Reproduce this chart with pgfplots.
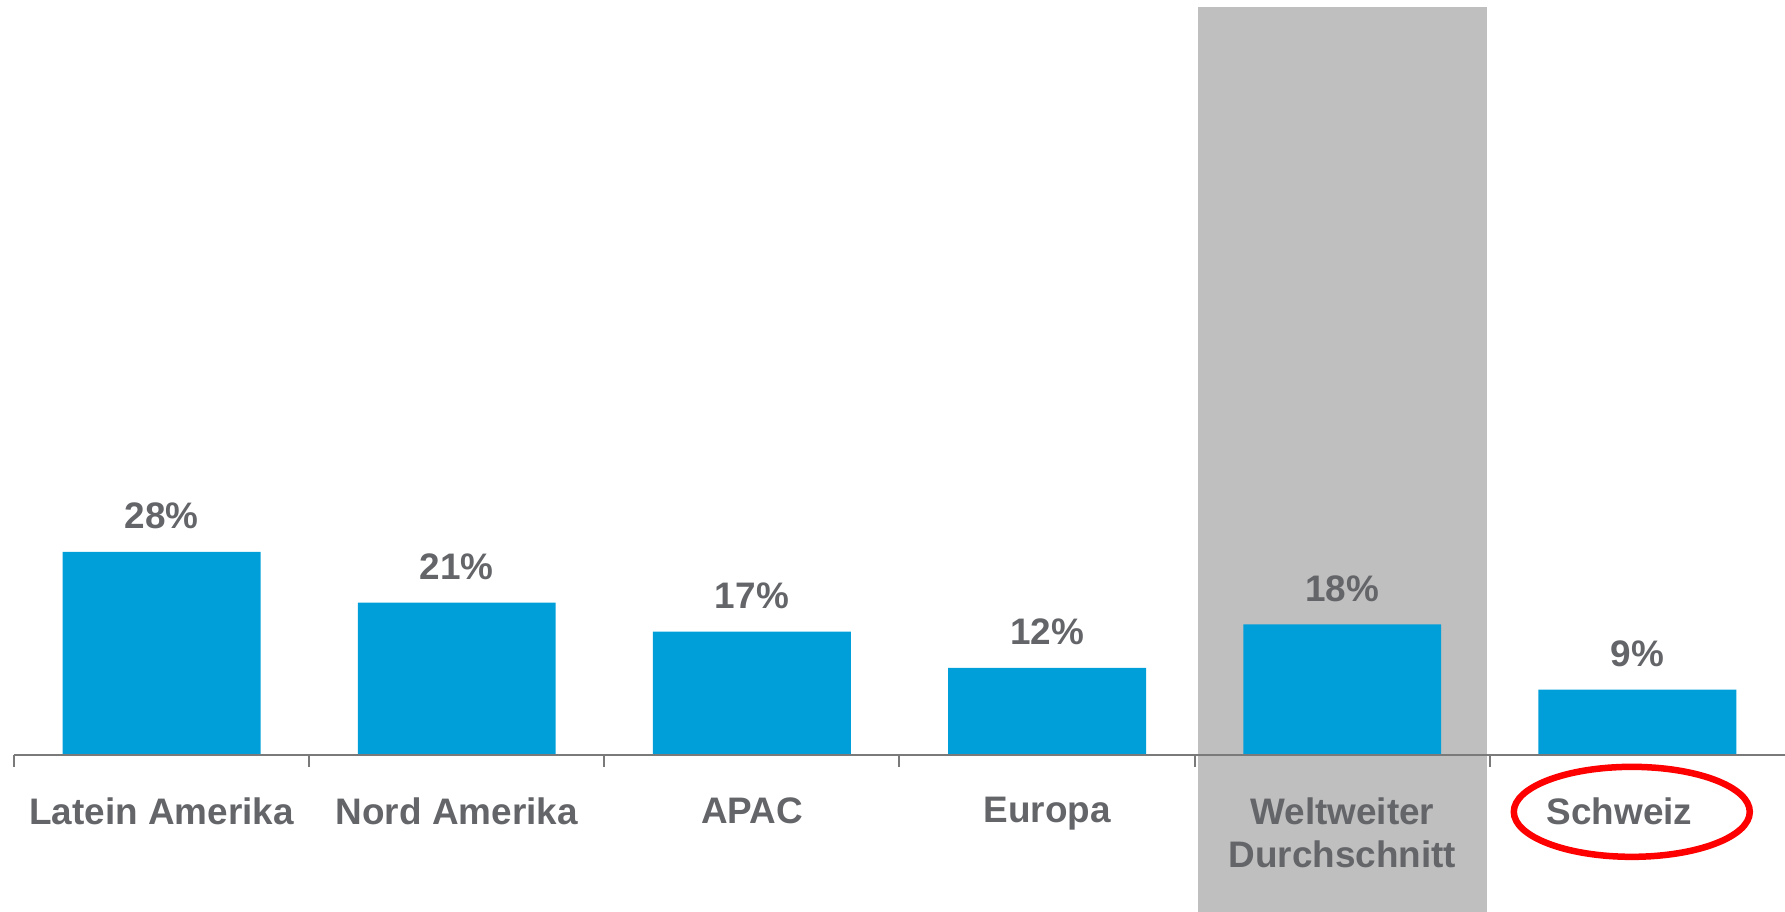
\documentclass[border=0pt]{standalone}
\usepackage{fontspec}
\setmainfont{Liberation Sans}
\usepackage{pgfplots}
\pgfplotsset{compat=1.18}
\definecolor{barblue}{RGB}{0,159,218}
\definecolor{boxgray}{RGB}{191,191,191}
\definecolor{txtgray}{RGB}{100,101,105}
\definecolor{axgray}{RGB}{122,122,122}

\begin{document}
\begin{tikzpicture}
  \begin{axis}[
      x=2.952cm, y=0.0725cm,
      xmin=-0.5, xmax=5.5,
      ymin=0, ymax=104.14,
      clip=false,
      axis on top,
      axis x line=bottom,
      axis y line=none,
      x axis line style={-, draw=axgray, line width=0.02cm},
      xtick={0,...,5},
      xticklabels={Latein Amerika, Nord Amerika, APAC, Europa,
                   {Weltweiter\\Durchschnitt}, {\hspace*{-0.36cm}Schweiz}},
      major tick length=0pt,
      minor xtick={-0.5,0.5,...,4.5},
      minor tick length=0.12cm,
      tick align=outside,
      minor tick style={draw=axgray, line width=0.02cm},
      xticklabel style={anchor=north, inner sep=0pt, yshift=-0.42cm,
                        align=center, text=txtgray,
                        font=\fontsize{10.5}{12.3}\selectfont\bfseries},
      /pgf/number format/assume math mode=true,
    ]
    % grey highlight behind the world average
    \addplot[fill=boxgray, draw=none]
      coordinates {(3.51,-21.7) (4.49,-21.7) (4.49,103.2) (3.51,103.2)} -- cycle;

    \addplot[ybar, bar width=1.98cm, fill=barblue, draw=none,
             nodes near coords={\pgfmathprintnumber{\pgfplotspointmeta}\%},
             every node near coord/.append style={anchor=base, yshift=0.23cm,
                 text=txtgray, font=\fontsize{10.5}{12}\selectfont\bfseries}]
      coordinates {(0,28) (1,21) (2,17) (3,12) (4,18) (5,9)};

    \draw[red, line width=0.065cm] (axis cs:4.981,-7.86)
      ellipse [x radius=1.18cm, y radius=0.45cm];

    \coordinate (bbA) at (axis cs:-0.5474,-21.66);
    \coordinate (bbB) at (axis cs:5.5,104.14);
  \end{axis}
  \pgfresetboundingbox
  \path (bbA) rectangle (bbB);
\end{tikzpicture}
\end{document}
